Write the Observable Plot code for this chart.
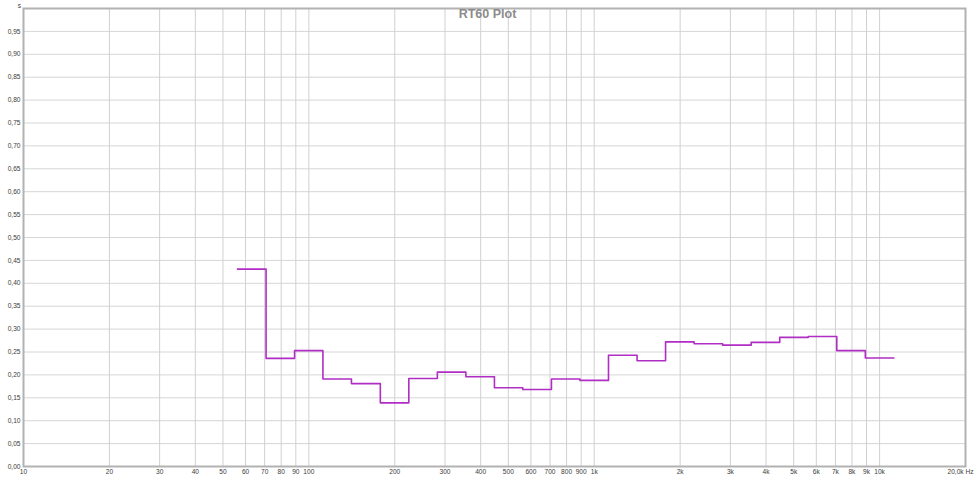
<!DOCTYPE html>
<html>
<head>
<meta charset="utf-8">
<script src="https://cdn.jsdelivr.net/npm/d3@7"></script>
<script src="https://cdn.jsdelivr.net/npm/@observablehq/plot@0.6"></script>
<style>
  html, body { margin: 0; padding: 0; background: #fff; }
  svg { display: block; }
  svg text { opacity: 0.99; }
</style>
</head>
<body>
<div id="chart"></div>
<script>
// Third-octave band edges (Hz) and RT60 per band (s)
const bandEdges = [56.2, 70.8, 89.1, 112, 141, 178, 224, 282, 355, 447, 562, 708, 891, 1122, 1413, 1778, 2239, 2818, 3548, 4467, 5623, 7079, 8913, 11220];
const rt60 = [0.431, 0.236, 0.253, 0.191, 0.181, 0.139, 0.192, 0.206, 0.196, 0.172, 0.168, 0.191, 0.188, 0.243, 0.231, 0.272, 0.268, 0.265, 0.271, 0.282, 0.284, 0.253, 0.237];

const xTicks = [10, 20, 30, 40, 50, 60, 70, 80, 90, 100, 200, 300, 400, 500, 600, 700, 800, 900, 1000, 2000, 3000, 4000, 5000, 6000, 7000, 8000, 9000, 10000, 20000];
const xTickLabels = ["10", "20", "30", "40", "50", "60", "70", "80", "90", "100", "200", "300", "400", "500", "600", "700", "800", "900", "1k", "2k", "3k", "4k", "5k", "6k", "7k", "8k", "9k", "10k", "20,0k Hz"];
const yTicks = [0, 0.05, 0.10, 0.15, 0.20, 0.25, 0.30, 0.35, 0.40, 0.45, 0.50, 0.55, 0.60, 0.65, 0.70, 0.75, 0.80, 0.85, 0.90, 0.95];
const yTickLabels = ["0,00", "0,05", "0,10", "0,15", "0,20", "0,25", "0,30", "0,35", "0,40", "0,45", "0,50", "0,55", "0,60", "0,65", "0,70", "0,75", "0,80", "0,85", "0,90", "0,95"];
const title = "RT60 Plot";
const yUnit = "s";

const lineData = bandEdges.map((f, i) => ({f, v: rt60[Math.min(i, rt60.length - 1)]}));
const xLabels = xTicks.map((t, i) => ({t, label: xTickLabels[i]}));
const yLabels = yTicks.map((t, i) => ({t, label: yTickLabels[i]}));
const lastIndex = xTicks.length - 1;

const font = "'Liberation Sans', Arial, sans-serif";
const tickFont = 6.6;
const tickColor = "#3a3a3a";

const chart = Plot.plot({
  width: 975,
  height: 478,
  marginLeft: 23,
  marginRight: 10,
  marginTop: 8,
  marginBottom: 12,
  style: {fontFamily: font, background: "#fff", overflow: "visible"},
  x: {type: "log", domain: [10, 20000], axis: null},
  y: {domain: [0, 1], axis: null},
  marks: [
    Plot.ruleY(yTicks.filter(d => d > 0), {stroke: "#d6d6d6", strokeWidth: 1}),
    Plot.ruleX(xTicks.filter(d => d > 10 && d < 20000), {stroke: "#d0d0d0", strokeWidth: 1}),
    Plot.frame({stroke: "#b2b2b2", strokeWidth: 2}),
    Plot.text(xLabels.filter((d, i) => i !== lastIndex), {
      x: "t",
      text: "label",
      frameAnchor: "bottom",
      lineAnchor: "top",
      dy: 3,
      fontSize: tickFont,
      fill: tickColor
    }),
    Plot.text(xLabels.filter((d, i) => i === lastIndex), {
      x: "t",
      text: "label",
      frameAnchor: "bottom",
      textAnchor: "start",
      lineAnchor: "top",
      dx: -18,
      dy: 3,
      fontSize: tickFont,
      fill: tickColor
    }),
    Plot.text(yLabels, {
      y: "t",
      text: "label",
      frameAnchor: "left",
      textAnchor: "end",
      dx: -3,
      fontSize: tickFont,
      fill: tickColor
    }),
    Plot.text([yUnit], {
      frameAnchor: "top-left",
      text: d => d,
      textAnchor: "middle",
      lineAnchor: "bottom",
      dx: -4,
      dy: -1,
      fontSize: tickFont,
      fill: tickColor
    }),
    Plot.text([title], {
      frameAnchor: "top",
      text: d => d,
      lineAnchor: "top",
      dx: -7,
      dy: 1,
      fontSize: 12.5,
      fontWeight: "bold",
      fill: "#8a8a8a"
    }),
    Plot.line(lineData, {x: "f", y: "v", curve: "step-after", stroke: "#b02ec4", strokeWidth: 1.6})
  ]
});

document.getElementById("chart").appendChild(chart);
</script>
</body>
</html>
